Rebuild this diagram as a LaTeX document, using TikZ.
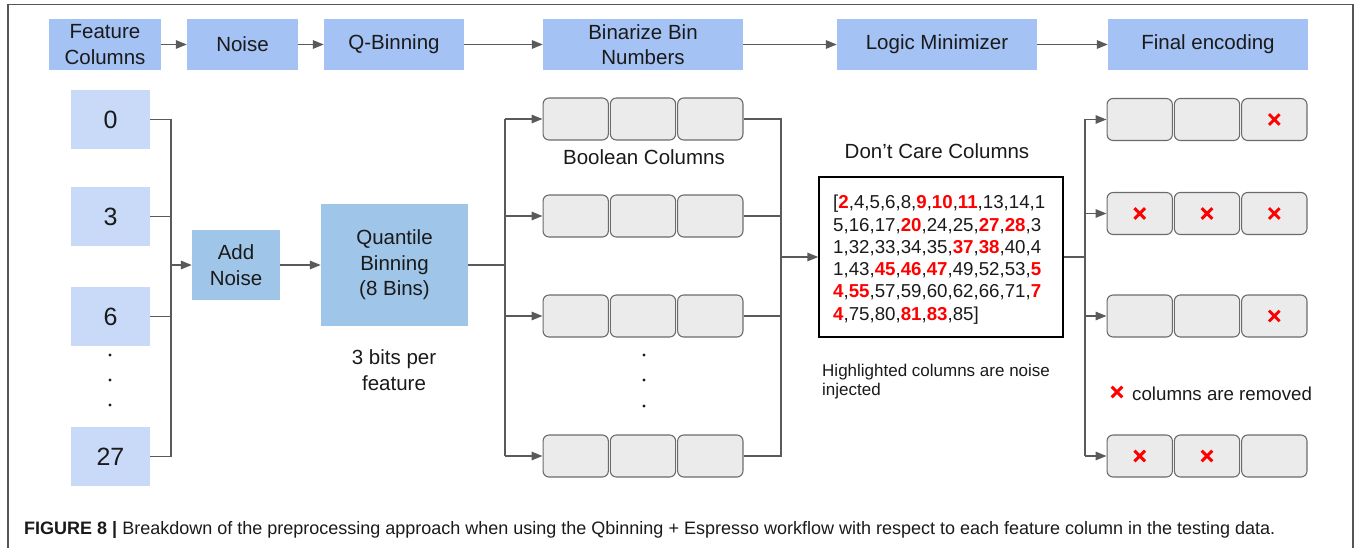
\documentclass[tikz,border=0pt]{standalone}
\usepackage{fontspec}
\setmainfont{Liberation Sans}
\usetikzlibrary{arrows.meta,calc}

\definecolor{topblue}{HTML}{A4C2F4}
\definecolor{featblue}{HTML}{C9DAF8}
\definecolor{procblue}{HTML}{9FC5E8}
\definecolor{cellgray}{HTML}{EBEBEB}
\definecolor{cellline}{HTML}{6B6B6B}
\definecolor{linkgray}{HTML}{5A5A5A}
\definecolor{framegray}{HTML}{555555}
\definecolor{ink}{HTML}{1A1A1A}
\definecolor{hotred}{HTML}{FF0000}

% noise-injected column numbers
\newcommand\noisecol[1]{\textcolor{hotred}{\textbf{#1}}}

\begin{document}
\begin{tikzpicture}[x=1pt,y=-1pt,
  every node/.style={text=ink},
  stagebox/.style={fill=topblue, inner sep=0pt, align=center,
    minimum height=51pt, font=\fontsize{20.5}{25.5}\selectfont},
  featbox/.style={fill=featblue, inner sep=0pt, minimum width=79pt,
    minimum height=59pt, font=\fontsize{25}{30}\selectfont},
  procbox/.style={fill=procblue, inner sep=0pt, align=center,
    font=\fontsize{20.5}{25.5}\selectfont},
  cell/.style={draw=cellline, fill=cellgray, rounded corners=6pt,
    line width=1.1pt, minimum width=65.3pt, minimum height=42pt, inner sep=0pt},
  wire/.style={draw=linkgray, line width=1.5pt},
  link/.style={wire, -{Triangle[length=11pt,width=8.5pt]}},
  label/.style={inner sep=0pt, align=center, font=\fontsize{20.5}{25.5}\selectfont},
  dotmark/.style={circle, fill=ink, inner sep=0pt, minimum size=3.4pt},
  xcross/.pic={\draw[hotred, line width=2.9pt] (-5.3,-5.3) -- (5.3,5.3) (-5.3,5.3) -- (5.3,-5.3);}
]
\useasboundingbox (0,0) rectangle (1356,548);

% outer frame (open at the bottom)
\draw[framegray, line width=1.3pt] (8,548) -- (8,4.5) -- (1353,4.5) -- (1353,548);

% ---- stage headers ----
\node[stagebox, minimum width=112pt] (sFeat)  at (105,44.5)  {Feature\\Columns};
\node[stagebox, minimum width=111pt] (sNoise) at (242.5,44.5) {Noise};
\node[stagebox, minimum width=140pt] (sQbin)  at (394,44.5)  {Q-Binning};
\node[stagebox, minimum width=200pt] (sBin)   at (643,44.5)  {Binarize Bin\\Numbers};
\node[stagebox, minimum width=200pt] (sLogic) at (937,44.5)  {Logic Minimizer};
\node[stagebox, minimum width=200pt] (sFinal) at (1208,44.5) {Final encoding};

\draw[link] (sFeat) -- (sNoise);
\draw[link] (sNoise) -- (sQbin);
\draw[link] (sQbin) -- (sBin);
\draw[link] (sBin) -- (sLogic);
\draw[link] (sLogic) -- (sFinal);

% ---- feature columns ----
\node[featbox] (f0)  at (110.5,119.5) {0};
\node[featbox] (f3)  at (110.5,216.5) {3};
\node[featbox] (f6)  at (110.5,316.5) {6};
\node[featbox] (f27) at (110.5,456.5) {27};
\node[dotmark] (fd1) at (110,355) {};
\node[dotmark] (fd2) at (110,380) {};
\node[dotmark] (fd3) at (110,405) {};

% ---- noise and binning ----
\node[procbox, minimum width=88pt, minimum height=70pt] (addn) at (236,265) {Add\\Noise};
\node[procbox, minimum width=147pt, minimum height=122pt] (quant) at (394.5,265) {Quantile\\Binning\\(8 Bins)};
\node[label] (bits) at (394,370) {3 bits per\\feature};

\coordinate (busA) at (171,265);
\draw[wire] (f0.east) -- (f0.east -| busA) -- (f27.east -| busA) -- (f27.east);
\draw[wire] (f3.east) -- (f3.east -| busA);
\draw[wire] (f6.east) -- (f6.east -| busA);
\draw[link] (busA) -- (addn.west);
\draw[link] (addn) -- (quant);

% ---- boolean columns ----
\foreach \r/\y in {1/119,2/216,3/316,4/456} {
  \node[cell] (b\r a) at (575.7,\y) {};
  \node[cell] (b\r b) at (643,\y) {};
  \node[cell] (b\r c) at (710.3,\y) {};
}
\node[label] (boolLbl) at (644,157) {Boolean Columns};
\node[dotmark] (bd1) at (644,355) {};
\node[dotmark] (bd2) at (644,380) {};
\node[dotmark] (bd3) at (644,406) {};

\coordinate (busB) at (505,265);
\draw[wire] (quant.east) -- (busB);
\draw[wire] (busB |- b1a.west) -- (busB |- b4a.west);
\foreach \r in {1,2,3,4} {
  \draw[link] (busB |- b\r a.west) -- (b\r a.west);
}

% ---- don't care columns ----
\node[draw=black, line width=1.4pt, minimum width=244pt, minimum height=160pt,
  inner sep=0pt] (dc) at (941,257) {};
\node[label] (dcLbl) at (937,151) {Don’t Care Columns};
\node[anchor=north west, inner sep=0pt, align=left,
  font=\fontsize{18.7}{22.3}\selectfont] (dcList) at (833,195)
  {[\noisecol{2},4,5,6,8,\noisecol{9},\noisecol{10},\noisecol{11},13,14,1\\
   5,16,17,\noisecol{20},24,25,\noisecol{27},\noisecol{28},3\\
   1,32,33,34,35,\noisecol{37},\noisecol{38},40,4\\
   1,43,\noisecol{45},\noisecol{46},\noisecol{47},49,52,53,\noisecol{5}\\
   \noisecol{4},\noisecol{55},57,59,60,62,66,71,\noisecol{7}\\
   \noisecol{4},75,80,\noisecol{81},\noisecol{83},85]};
\node[anchor=west, inner sep=0pt, align=left,
  font=\fontsize{17}{19}\selectfont] (dcNote) at (822,381.5)
  {Highlighted columns are noise\\injected};

\coordinate (busC) at (781,257);
\draw[wire] (b1c.east) -- (b1c.east -| busC) -- (b4c.east -| busC) -- (b4c.east);
\draw[wire] (b2c.east) -- (b2c.east -| busC);
\draw[wire] (b3c.east) -- (b3c.east -| busC);
\draw[link] (busC) -- (dc.west);

% ---- final encoding ----
\foreach \r/\y in {1/119.5,2/213.5,3/316,4/456} {
  \node[cell] (e\r a) at (1139.7,\y) {};
  \node[cell] (e\r b) at (1207,\y) {};
  \node[cell] (e\r c) at (1274.3,\y) {};
}
\pic at (e1c) {xcross};
\pic at (e2a) {xcross};
\pic at (e2b) {xcross};
\pic at (e2c) {xcross};
\pic at (e3c) {xcross};
\pic at (e4a) {xcross};
\pic at (e4b) {xcross};

\coordinate (legX) at (1117,392);
\pic at (legX) {xcross};
\node[anchor=west, inner sep=0pt, font=\fontsize{18.7}{22}\selectfont] (legTxt)
  at (1132,393.5) {columns are removed};

\coordinate (busD) at (1085,257);
\draw[wire] (dc.east) -- (busD);
\draw[wire] (busD |- e1a.west) -- (busD |- e4a.west);
\foreach \r in {1,2,3,4} {
  \draw[link] (busD |- e\r a.west) -- (e\r a.west);
}

% ---- caption ----
\node[anchor=west, inner sep=0pt, font=\fontsize{18}{22}\selectfont] (caption) at (24,530)
  {\textbf{FIGURE 8 |} Breakdown of the preprocessing approach when using the Qbinning + Espresso workflow with respect to each feature column in the testing data.};
\end{tikzpicture}
\end{document}
